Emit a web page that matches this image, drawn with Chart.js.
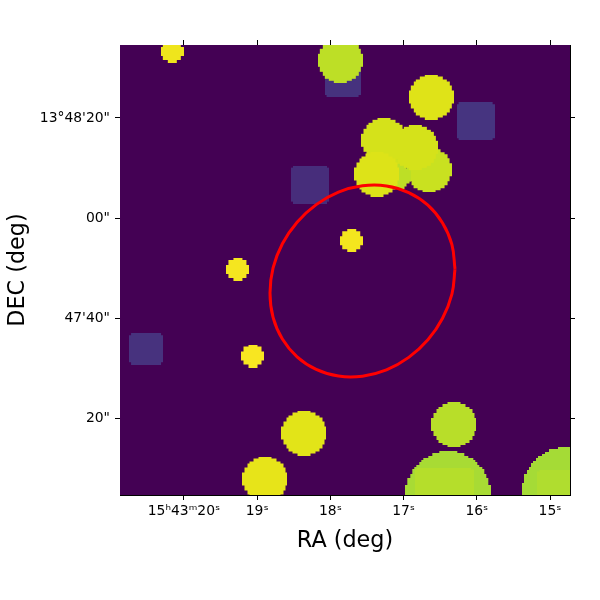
<!DOCTYPE html>
<html>
<head>
<meta charset="utf-8">
<style>html,body{margin:0;padding:0;background:#fff}canvas{display:block}</style>
<script src="https://cdn.jsdelivr.net/npm/chart.js@4"></script>
</head>
<body>
<canvas id="c" width="600" height="600"></canvas>
<script>
// Axis ticks (RA in seconds of 15h43m, DEC in arcsec above 13d47m)
const raTicks = [20, 19, 18, 17, 16, 15];
const raLabels = ['15ʰ43ᵐ20ˢ', '19ˢ', '18ˢ', '17ˢ', '16ˢ', '15ˢ'];
const decTicks = [80, 60, 40, 20];
const decLabels = ['13°48\'20"', '00"', '47\'40"', '20"'];

// Sources in the mask image, in drawing order
const srcRa  = [17.834, 16.017, 18.279, 20.518, 16.653, 17.077, 17.063, 16.840, 17.268, 17.364, 20.160, 17.865, 16.622, 16.390, 16.442, 14.768, 14.768, 16.312, 18.361, 18.894, 19.058, 19.263, 17.709];
const srcDec = [88.0, 79.36, 66.68, 33.76, 69.66, 71.6, 68.4, 74.14, 75.54, 68.8, 93.3, 91.54, 84.2, 4.8, 4.2, 5.2, 3.8, 18.7, 17.0, 7.8, 32.4, 49.7, 55.46];
const srcW   = [7.3, 7.7, 7.7, 6.9, 9.2, 5.0, 5.0, 9.2, 9.2, 9.2, 4.6, 9.2, 9.2, 17.0, 11.8, 18.0, 11.6, 9.2, 9.2, 9.2, 4.6, 4.6, 4.6];
const srcH   = [7.6, 7.8, 7.7, 6.3, 0, 0, 0, 0, 0, 0, 0, 0, 0, 0, 11.6, 0, 11.6, 0, 0, 0, 0, 0, 0];
const srcColor = ['#46327e', '#463480', '#472d7b', '#47327e', '#c9e120', '#d0e11c', '#bddf26', '#d5e21a', '#d5e21a', '#dde318', '#efe51c', '#bddf26', '#dfe318', '#a8db34', '#b5de2b', '#a5db36', '#b0dd2f', '#b8de29', '#e2e418', '#e7e419', '#f8e621', '#f5e61f', '#f4e61e'];

// Red ellipse outline
const ellipseRa  = [16.298, 16.340, 16.468, 16.668, 16.930, 17.234, 17.562, 17.890, 18.194, 18.455, 18.656, 18.783, 18.825, 18.783, 18.656, 18.455, 18.194, 17.890, 17.562, 17.234, 16.930, 16.668, 16.468, 16.340, 16.298];
const ellipseDec = [49.8, 44.78, 39.96, 35.64, 32.12, 29.62, 28.36, 28.38, 29.72, 32.24, 35.8, 40.14, 45.0, 50.02, 54.84, 59.16, 62.68, 65.18, 66.44, 66.42, 65.08, 62.56, 59.0, 54.66, 49.8];

const CELL = 2.25;
const sprites = new Map();
function sprite(i, pxPerArc) {
  if (!(pxPerArc > 0)) return 'circle';
  const key = i + ':' + pxPerArc;
  if (sprites.has(key)) return sprites.get(key);
  const w = srcW[i] * pxPerArc;
  const isBox = srcH[i] > 0;
  const h = isBox ? srcH[i] * pxPerArc : w;
  const nx = Math.round(w / CELL), ny = Math.round(h / CELL);
  const cv = document.createElement('canvas');
  cv.width = Math.round(nx * CELL);
  cv.height = Math.round(ny * CELL);
  const g = cv.getContext('2d');
  g.fillStyle = srcColor[i];
  for (let a = 0; a < nx; a++) {
    for (let b = 0; b < ny; b++) {
      const dx = a + 0.5 - nx / 2, dy = b + 0.5 - ny / 2;
      let on;
      if (isBox) {
        const ex = Math.min(a, nx - 1 - a), ey = Math.min(b, ny - 1 - b);
        on = ex + ey >= 1;
      } else {
        on = dx * dx + dy * dy <= (nx / 2) * (nx / 2);
      }
      if (on) {
        const x0 = Math.round(a * CELL), x1 = Math.round((a + 1) * CELL);
        const y0 = Math.round(b * CELL), y1 = Math.round((b + 1) * CELL);
        g.fillRect(x0, y0, x1 - x0, y1 - y0);
      }
    }
  }
  sprites.set(key, cv);
  return cv;
}
function arcPx(chart) {
  const s = chart.scales.y;
  return Math.abs(s.getPixelForValue(1) - s.getPixelForValue(0));
}

const bgPlugin = {
  id: 'imageBg',
  beforeDatasetsDraw(chart) {
    const a = chart.chartArea, g = chart.ctx;
    g.save();
    g.fillStyle = '#440154';
    g.fillRect(a.left, a.top, a.right - a.left, a.bottom - a.top);
    g.restore();
  }
};

const tickFont = { family: 'DejaVu Sans', size: 13.9 };
const titleFont = { family: 'DejaVu Sans', size: 22.3 };
const grid = { drawOnChartArea: false, drawTicks: true, tickLength: 5, tickColor: '#000', tickWidth: 1 };
const border = { display: true, color: '#000', width: 1 };
const RA_MIN = 14.727, RA_MAX = 20.874, DEC_MIN = 4.6, DEC_MAX = 94.6;

new Chart(document.getElementById('c'), {
  type: 'scatter',
  plugins: [bgPlugin],
  data: {
    datasets: [
      {
        label: 'ellipse',
        data: ellipseRa.map((x, i) => ({ x, y: ellipseDec[i] })),
        showLine: true,
        borderColor: '#ff0000',
        borderWidth: 3,
        tension: 0.4,
        pointRadius: 0,
        fill: false
      },
      {
        label: 'sources',
        data: srcRa.map((x, i) => ({ x, y: srcDec[i] })),
        showLine: false,
        pointStyle: ctx => sprite(ctx.dataIndex, arcPx(ctx.chart)),
        pointRadius: ctx => srcW[ctx.dataIndex] * 2.5,
        pointBorderWidth: 0,
        clip: 0
      }
    ]
  },
  options: {
    responsive: false,
    animation: false,
    devicePixelRatio: 1,
    layout: { padding: 0, autoPadding: false },
    plugins: { legend: { display: false }, tooltip: { enabled: false } },
    scales: {
      x: {
        type: 'linear', position: 'bottom', reverse: true, min: RA_MIN, max: RA_MAX,
        afterFit(s) { s.height = 105; },
        afterBuildTicks(s) { s.ticks = raTicks.map(value => ({ value })); },
        grid, border,
        ticks: { font: tickFont, color: '#000', padding: 3, maxRotation: 0, autoSkip: false,
          callback: v => raLabels[raTicks.indexOf(v)] },
        title: { display: true, text: 'RA (deg)', font: titleFont, color: '#000', padding: { top: 0, bottom: 45 } }
      },
      x2: {
        type: 'linear', position: 'top', reverse: true, min: RA_MIN, max: RA_MAX,
        afterFit(s) { s.height = 45; },
        afterBuildTicks(s) { s.ticks = raTicks.map(value => ({ value })); },
        grid, border,
        ticks: { display: false }
      },
      y: {
        type: 'linear', position: 'left', min: DEC_MIN, max: DEC_MAX,
        afterFit(s) { s.width = 120; },
        afterBuildTicks(s) { s.ticks = decTicks.map(value => ({ value })); },
        grid, border,
        ticks: { font: tickFont, color: '#000', padding: 5, autoSkip: false,
          callback: v => decLabels[decTicks.indexOf(v)] },
        title: { display: true, text: 'DEC (deg)', font: titleFont, color: '#000', padding: { top: 5, bottom: 0 } }
      },
      y2: {
        type: 'linear', position: 'right', min: DEC_MIN, max: DEC_MAX,
        afterFit(s) { s.width = 30; },
        afterBuildTicks(s) { s.ticks = decTicks.map(value => ({ value })); },
        grid, border,
        ticks: { display: false }
      }
    }
  }
});
</script>
</body>
</html>
